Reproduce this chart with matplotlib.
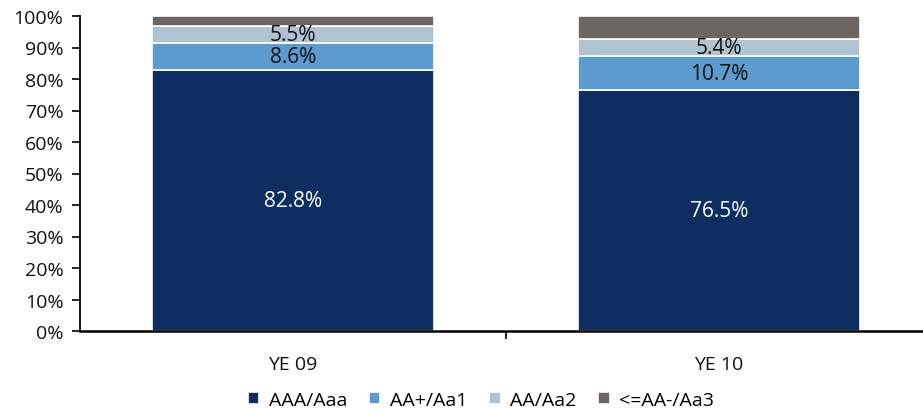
import matplotlib
matplotlib.use("Agg")
import matplotlib.pyplot as plt
import numpy as np

plt.rcParams['font.family'] = ['Open Sans', 'DejaVu Sans']

categories = ["YE 09", "YE 10"]
series_names = ["AAA/Aaa", "AA+/Aa1", "AA/Aa2", "<=AA-/Aa3"]
aaa = [82.8, 76.5]
aa_plus = [8.6, 10.7]
aa = [5.5, 5.4]
aa_minus = [3.1, 7.4]
colors = ["#0E2E61", "#5B9BCF", "#AFC3D3", "#6B6662"]
label_colors = ["white", "#111111", "#111111", None]

series = [aaa, aa_plus, aa, aa_minus]

fig = plt.figure(figsize=(9.23, 4.10), dpi=100)
ax = fig.add_axes([80 / 923, 1 - 332 / 410, 852 / 923, 315 / 410])

x = np.arange(len(categories))
bottom = np.zeros(len(categories))
handles = []
for vals, name, col, lc in zip(series, series_names, colors, label_colors):
    vals = np.array(vals)
    b = ax.bar(x, vals, bottom=bottom, width=0.66, color=col,
               edgecolor="white", linewidth=1.2, label=name)
    handles.append(b)
    if lc is not None:
        for xi, v, bt in zip(x, vals, bottom):
            ax.text(xi, bt + v / 2, f"{v:.1f}%", ha="center", va="center",
                    color=lc, fontsize=15)
    bottom += vals

ax.set_xlim(-0.5, 1.5)
ax.set_ylim(0, 100)
ax.set_yticks(np.arange(0, 101, 10))
ax.set_yticklabels([f"{v}%" for v in range(0, 101, 10)], fontsize=14, color="#111111")
ax.set_xticks([0.5])
ax.set_xticklabels([""])
ax.tick_params(axis="x", length=6, width=1.2, direction="out")
ax.tick_params(axis="y", length=6, width=1.2, direction="out", pad=6)
for xi, c in zip(x, categories):
    ax.text(xi, -33 / 315, c, transform=ax.get_xaxis_transform(), ha="center",
            va="center", fontsize=14, color="#111111")

for s in ["top", "right"]:
    ax.spines[s].set_visible(False)
ax.spines["left"].set_linewidth(1.3)
ax.spines["bottom"].set_linewidth(1.8)

fig.legend(handles=handles, labels=series_names, loc="center",
           bbox_to_anchor=(481 / 923, 1 - 401 / 410), ncol=4, frameon=False,
           fontsize=14, handlelength=0.6, handleheight=0.6, handletextpad=0.5,
           columnspacing=1.1, borderpad=0, borderaxespad=0)

fig.savefig("out.png", dpi=100)
